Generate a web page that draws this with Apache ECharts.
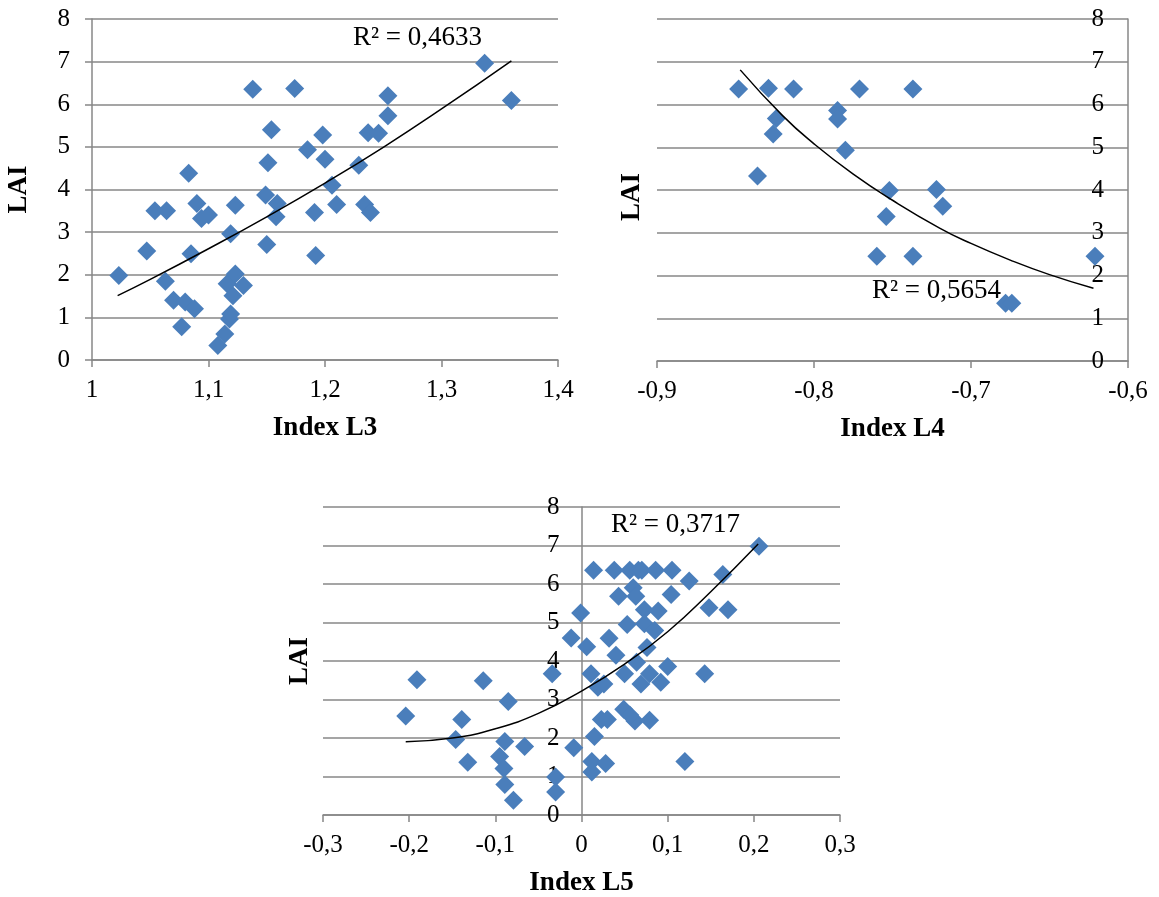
<!DOCTYPE html>
<html>
<head>
<meta charset="utf-8">
<script src="https://cdn.jsdelivr.net/npm/echarts@6/dist/echarts.min.js"></script>
<style>
  html, body { margin: 0; padding: 0; background: #fff; }
  #chart { width: 1159px; height: 897px; }
</style>
</head>
<body>
<div id="chart"></div>
<script>
// Index L3 vs LAI
const l3X = [1.023, 1.047, 1.054, 1.064, 1.063, 1.070, 1.080, 1.088, 1.077, 1.083, 1.085, 1.090, 1.094, 1.100,
  1.108, 1.114, 1.118, 1.119, 1.119, 1.116, 1.123, 1.121, 1.130, 1.123, 1.138, 1.150, 1.149, 1.151, 1.154,
  1.159, 1.158, 1.174, 1.185, 1.191, 1.192, 1.198, 1.200, 1.206, 1.210, 1.229, 1.234, 1.239, 1.237, 1.246,
  1.254, 1.254, 1.337, 1.360];
const l3Y = [1.98, 2.56, 3.50, 3.50, 1.85, 1.40, 1.36, 1.20, 0.78, 4.38, 2.49, 3.67, 3.32, 3.40,
  0.34, 0.61, 0.96, 1.08, 2.96, 1.79, 2.02, 1.51, 1.75, 3.63, 6.35, 2.71, 3.87, 4.63, 5.40,
  3.67, 3.36, 6.37, 4.93, 3.46, 2.45, 5.28, 4.71, 4.10, 3.65, 4.57, 3.65, 3.46, 5.33, 5.32,
  6.20, 5.73, 6.96, 6.09];
const l3TrendX = [1.022, 1.05, 1.1, 1.15, 1.2, 1.25, 1.3, 1.36];
const l3TrendY = [1.51, 1.89, 2.61, 3.36, 4.15, 4.99, 5.89, 7.02];

// Index L4 vs LAI
const l4X = [-0.848, -0.829, -0.813, -0.824, -0.826, -0.836, -0.785, -0.785, -0.780, -0.771,
  -0.737, -0.752, -0.754, -0.760, -0.737, -0.722, -0.718, -0.678, -0.674, -0.621];
const l4Y = [6.36, 6.38, 6.36, 5.67, 5.31, 4.33, 5.86, 5.66, 4.93, 6.36,
  6.36, 3.99, 3.38, 2.45, 2.45, 4.01, 3.62, 1.35, 1.35, 2.45];
const l4TrendX = [-0.847, -0.82, -0.80, -0.775, -0.75, -0.72, -0.70, -0.675, -0.65, -0.622];
const l4TrendY = [6.81, 5.74, 5.08, 4.37, 3.76, 3.11, 2.75, 2.36, 2.02, 1.70];

// Index L5 vs LAI
const l5X = [-0.204, -0.191, -0.139, -0.146, -0.132, -0.114, -0.085, -0.089, -0.095, -0.090, -0.089, -0.079,
  -0.066, -0.034, -0.030, -0.030, -0.012, -0.009, -0.001, 0.006, 0.012, 0.012, 0.014, 0.011, 0.019, 0.015,
  0.026, 0.023, 0.030, 0.028, 0.032, 0.038, 0.040, 0.043, 0.050, 0.049, 0.053, 0.056, 0.060, 0.063,
  0.064, 0.062, 0.056, 0.066, 0.070, 0.069, 0.073, 0.073, 0.076, 0.079, 0.085, 0.086, 0.089, 0.092,
  0.100, 0.104, 0.105, 0.120, 0.125, 0.143, 0.148, 0.164, 0.170, 0.206, 0.079];
const l5Y = [2.57, 3.51, 2.48, 1.96, 1.37, 3.49, 2.95, 1.91, 1.52, 1.21, 0.79, 0.38,
  1.78, 3.67, 0.99, 0.60, 4.60, 1.75, 5.25, 4.37, 1.39, 1.12, 6.36, 3.67, 3.32, 2.04,
  3.40, 2.48, 2.48, 1.34, 4.59, 6.36, 4.15, 5.68, 3.67, 2.75, 4.95, 6.36, 5.90, 5.68,
  3.97, 2.44, 2.60, 6.36, 6.36, 3.40, 5.33, 4.97, 4.35, 3.67, 4.79, 6.36, 5.30, 3.45,
  3.86, 5.73, 6.36, 1.39, 6.08, 3.67, 5.38, 6.25, 5.33, 6.98, 2.46];
const l5TrendX = [-0.204, -0.15, -0.1, -0.05, 0, 0.05, 0.1, 0.15, 0.205];
const l5TrendY = [1.90, 2.00, 2.24, 2.64, 3.22, 3.92, 4.76, 5.80, 7.04];

const yTicks = { min: 0, max: 8, interval: 1 };
const r2Labels = ['R² = 0,4633', 'R² = 0,5654', 'R² = 0,3717'];

const FONT = '"Liberation Serif", "Times New Roman", serif';
const GRAY = '#878787';
const BLUE = '#4a7ebb';

function comma(v) {
  return String(Math.round(v * 10) / 10).replace('.', ',');
}
function pairs(xs, ys) {
  return xs.map((x, i) => [x, ys[i]]);
}

const tickLabel = { color: '#000', fontFamily: FONT, fontSize: 25 };
const titleText = { color: '#000', fontFamily: FONT, fontSize: 27, fontWeight: 'bold' };

function makeX(gridIndex, min, max, name) {
  return {
    type: 'value', gridIndex, min, max, interval: 0.1,
    name, nameLocation: 'middle', nameGap: 55, nameTextStyle: titleText,
    axisLine: { show: true, lineStyle: { color: GRAY, width: 1.5 } },
    axisTick: { show: true, length: 7, lineStyle: { color: GRAY, width: 1.5 } },
    axisLabel: Object.assign({ margin: 18, formatter: comma }, tickLabel),
    splitLine: { show: false }
  };
}

function makeY(gridIndex, extra) {
  return Object.assign({
    type: 'value', gridIndex, min: yTicks.min, max: yTicks.max, interval: yTicks.interval,
    axisLine: { show: true, onZero: false, lineStyle: { color: GRAY, width: 1.5 } },
    axisTick: { show: true, length: 7, lineStyle: { color: GRAY, width: 1.5 } },
    axisLabel: Object.assign({ margin: 22 }, tickLabel),
    splitLine: { show: true, lineStyle: { color: GRAY, width: 1.5 } }
  }, extra);
}

function scatter(i, xs, ys) {
  return {
    type: 'scatter', xAxisIndex: i, yAxisIndex: i,
    data: pairs(xs, ys),
    symbol: 'diamond', symbolSize: 19,
    itemStyle: { color: BLUE, opacity: 1 },
    z: 2
  };
}

function trend(i, xs, ys) {
  return {
    type: 'line', xAxisIndex: i, yAxisIndex: i,
    data: pairs(xs, ys),
    smooth: true, showSymbol: false, symbol: 'none',
    lineStyle: { color: '#000', width: 1.5 },
    z: 3
  };
}

function label(text, x, y) {
  return {
    type: 'text', x, y, z: 10,
    style: {
      text, fill: '#000', font: '27px ' + FONT,
      textAlign: 'left', textVerticalAlign: 'middle'
    }
  };
}

const grid3 = { left: 323, top: 507, width: 517, height: 308, outerBoundsMode: 'none' };

const chart = echarts.init(document.getElementById('chart'));

chart.setOption({
  animation: false,
  grid: [
    { left: 92, top: 19, width: 466, height: 341, outerBoundsMode: 'none' },
    { left: 657, top: 19, width: 471, height: 342, outerBoundsMode: 'none' },
    grid3
  ],
  xAxis: [
    makeX(0, 1, 1.4, 'Index L3'),
    makeX(1, -0.9, -0.6, 'Index L4'),
    makeX(2, -0.3, 0.3, 'Index L5')
  ],
  yAxis: [
    makeY(0, { name: 'LAI', nameLocation: 'middle', nameGap: 59, nameRotate: 90, nameTextStyle: titleText }),
    makeY(1, {
      position: 'right',
      axisTick: { show: false },
      axisLabel: Object.assign({ margin: 24, inside: true }, tickLabel)
    }),
    // vertical axis crosses at x = 0, in the middle of the symmetric range
    makeY(2, {
      offset: -grid3.width / 2,
      axisTick: { show: false },
      name: 'LAI', nameLocation: 'middle', nameGap: 268, nameRotate: 90, nameTextStyle: titleText
    })
  ],
  graphic: [
    label(r2Labels[0], 353, 38),
    label(r2Labels[1], 872, 291),
    label(r2Labels[2], 611, 525),
    {
      type: 'text', x: 632, y: 197, rotation: Math.PI / 2, z: 10,
      style: { text: 'LAI', fill: '#000', font: 'bold 27px ' + FONT, textAlign: 'center', textVerticalAlign: 'middle' }
    }
  ],
  series: [
    scatter(0, l3X, l3Y), trend(0, l3TrendX, l3TrendY),
    scatter(1, l4X, l4Y), trend(1, l4TrendX, l4TrendY),
    scatter(2, l5X, l5Y), trend(2, l5TrendX, l5TrendY)
  ]
});
</script>
</body>
</html>
